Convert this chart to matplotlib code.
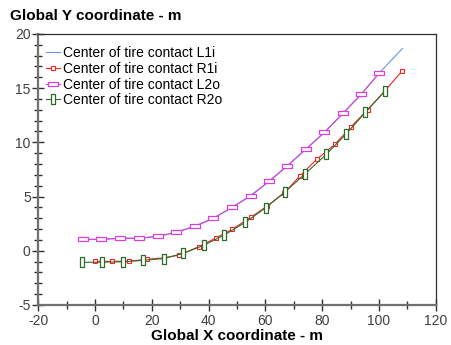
import matplotlib.pyplot as plt
from matplotlib.ticker import MultipleLocator

plt.rcParams['font.family'] = ['Liberation Sans', 'DejaVu Sans']
plt.rcParams['axes.unicode_minus'] = False

# left track (upper curve)
l1i_x = [-4.4, 2.0, 8.8, 15.5, 22.2, 28.6, 35.2, 41.6, 48.3, 54.8, 61.3, 67.7, 74.2, 80.8, 87.3, 93.7, 100.0, 108.3]
l1i_y = [1.05, 1.05, 1.15, 1.15, 1.33, 1.71, 2.25, 2.99, 4.0, 5.07, 6.40, 7.82, 9.35, 10.91, 12.66, 14.41, 16.35, 18.65]
l2o_x = [-4.4, 2.0, 8.8, 15.5, 22.2, 28.6, 35.2, 41.6, 48.3, 54.8, 61.3, 67.7, 74.2, 80.8, 87.3, 93.7, 100.0]
l2o_y = [1.05, 1.05, 1.15, 1.15, 1.33, 1.71, 2.25, 2.99, 4.0, 5.07, 6.40, 7.82, 9.35, 10.91, 12.66, 14.41, 16.35]

# right track (lower curve)
r1i_x = [0.1, 6.1, 12.1, 18.2, 24.2, 29.7, 36.5, 42.5, 48.3, 54.8, 60.5, 66.5, 72.1, 78.2, 84.5, 90.1, 96.0, 102.0, 108.0]
r1i_y = [-0.98, -0.98, -0.95, -0.8, -0.65, -0.4, 0.37, 1.17, 1.97, 3.08, 4.1, 5.3, 6.88, 8.45, 9.81, 11.4, 13.0, 14.7, 16.53]
r2o_x = [-4.5, 2.5, 9.9, 17.0, 24.2, 31.1, 38.5, 45.5, 52.9, 60.1, 67.0, 73.9, 81.5, 88.4, 95.2, 102.1]
r2o_y = [-1.07, -1.05, -1.02, -0.88, -0.72, -0.24, 0.53, 1.45, 2.62, 3.96, 5.44, 7.07, 8.9, 10.75, 12.75, 14.72]

wide = [(-1, -0.42), (1, -0.42), (1, 0.42), (-1, 0.42), (-1, -0.42)]
tall = [(-0.42, -1), (0.42, -1), (0.42, 1), (-0.42, 1), (-0.42, -1)]

fig = plt.figure(figsize=(4.51, 3.45), dpi=100)
ax = fig.add_axes([0.085, 0.116, 0.881, 0.786])

ax.plot(l1i_x, l1i_y, color='#6f8ff0', lw=0.8, label='Center of tire contact L1i')
ax.plot(r1i_x, r1i_y, color='#ff2020', lw=0.8, marker='s', ms=3.2, mfc='white',
        mec='#ff2020', mew=0.8, label='Center of tire contact R1i')
ax.plot(l2o_x, l2o_y, color='#d840d8', lw=0.8, marker=wide, ms=7, mfc='white',
        mec='#d840d8', mew=0.9, label='Center of tire contact L2o')
ax.plot(r2o_x, r2o_y, color='#2a6e2a', lw=0.8, marker=tall, ms=7, mfc='white',
        mec='#2a6e2a', mew=0.9, label='Center of tire contact R2o')

ax.set_xlim(-20, 120)
ax.set_ylim(-5, 20)
ax.xaxis.set_major_locator(MultipleLocator(20))
ax.xaxis.set_minor_locator(MultipleLocator(10))
ax.yaxis.set_major_locator(MultipleLocator(5))
ax.yaxis.set_minor_locator(MultipleLocator(1))
ax.tick_params(which='major', direction='inout', length=9, width=1, color='#303030',
               labelsize=10, labelcolor='#404040')
ax.tick_params(axis='x', which='major', pad=2)
ax.tick_params(axis='y', which='major', pad=1)
ax.tick_params(which='minor', direction='inout', length=6, width=1, color='#303030')

for s in ['left', 'bottom']:
    ax.spines[s].set_color('#707070')
    ax.spines[s].set_linewidth(1.6)
for s in ['top', 'right']:
    ax.spines[s].set_color('#303030')
    ax.spines[s].set_linewidth(0.9)

fig.text(0.022, 0.955, 'Global Y coordinate - m', fontsize=11, fontweight='bold', va='center')
ax.set_xlabel('Global X coordinate - m', fontsize=11, fontweight='bold', labelpad=1)

ax.legend(loc='upper left', bbox_to_anchor=(-0.005, 0.99), frameon=False, fontsize=10,
          handlelength=1.0, handletextpad=0.25, labelspacing=0.12, borderaxespad=0.3)

fig.savefig('out.png', dpi=100)
